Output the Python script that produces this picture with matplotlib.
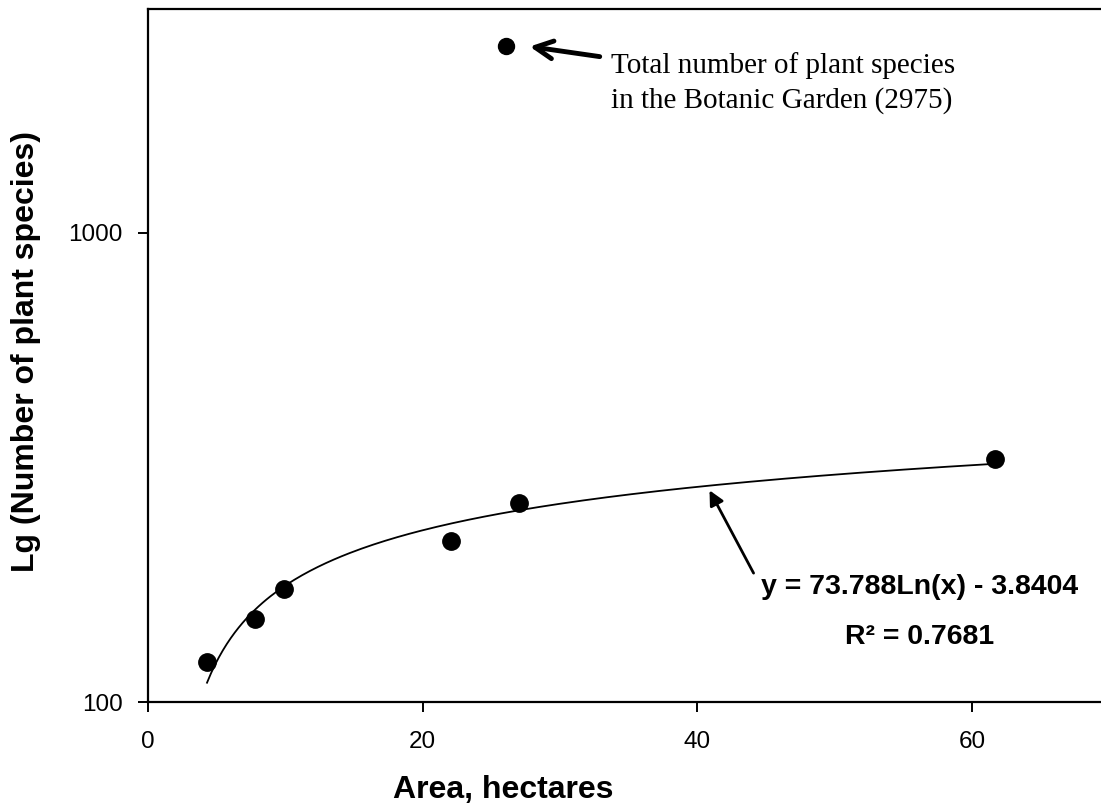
import numpy as np
import matplotlib
matplotlib.use("Agg")
import matplotlib.pyplot as plt

plt.rcParams['font.family'] = ['Liberation Sans', 'DejaVu Sans']

# site data: area (ha) vs number of plant species
area = [4.3, 7.8, 9.9, 22.1, 27.0, 61.7]
species = [122, 150, 174, 220, 266, 330]

# whole Botanic Garden point
total_area = 26.1
total_species = 2500

x_ticks = [0, 20, 40, 60]
y_ticks = [100, 1000]

eq_text = "y = 73.788Ln(x) - 3.8404"
r2_text = "R² = 0.7681"
note_text = "Total number of plant species\nin the Botanic Garden (2975)"

fig = plt.figure(figsize=(11.01, 8.10), dpi=100)
ax = fig.add_axes([0.1344, 0.1333, 0.873, 0.8556])

# logarithmic trend line fitted on the sites
a, b = np.polyfit(np.log(area), species, 1)
xs = np.linspace(min(area), max(area), 200)
ax.plot(xs, a * np.log(xs) + b, color='black', lw=1.3, zorder=2)

ax.plot(area, species, 'o', color='black', ms=12.5, zorder=3)
ax.plot([total_area], [total_species], 'o', color='black', ms=11.5, zorder=3)

ax.set_yscale('log')
ax.set_xlim(0, 70)
ax.set_ylim(100, 3000)
ax.set_xticks(x_ticks)
ax.set_xticklabels([str(t) for t in x_ticks])
ax.set_yticks(y_ticks)
ax.set_yticklabels([str(t) for t in y_ticks])
ax.yaxis.set_minor_locator(matplotlib.ticker.NullLocator())

for s in ['left', 'bottom', 'top']:
    ax.spines[s].set_linewidth(1.6)
ax.spines['right'].set_visible(False)
ax.tick_params(axis='both', direction='out', length=7, width=1.4,
               labelsize=17.5, colors='black')
ax.tick_params(axis='x', pad=14)
ax.tick_params(axis='y', pad=11)

# axis titles placed as in the original export
fig.text(503 / 1101, 1 - 790 / 810, "Area, hectares", fontsize=23,
         fontweight='bold', ha='center', va='center')
fig.text(26 / 1101, 1 - 352 / 810, "Lg (Number of plant species)",
         fontsize=23, fontweight='bold', ha='center', va='center',
         rotation=90)

# note for the total point
ax.annotate("", xy=(27.6, total_species), xytext=(33.1, 2370),
            arrowprops=dict(arrowstyle='->', lw=3.5, color='black',
                            mutation_scale=32))
ax.text(33.7, 2090, note_text, fontsize=21, family='Liberation Serif',
        va='center', ha='left', linespacing=1.38)

# trend line equation
ax.annotate("", xy=(40.8, a * np.log(40.8) + b - 3), xytext=(44.2, 186),
            arrowprops=dict(arrowstyle='-|>', lw=2, color='black',
                            mutation_scale=22))
ax.text(56.2, 175.7, eq_text, fontsize=20.5, fontweight='bold', ha='center',
        va='center')
ax.text(56.2, 137.6, r2_text, fontsize=20.5, fontweight='bold', ha='center',
        va='center')

fig.savefig("out.png", dpi=100)
